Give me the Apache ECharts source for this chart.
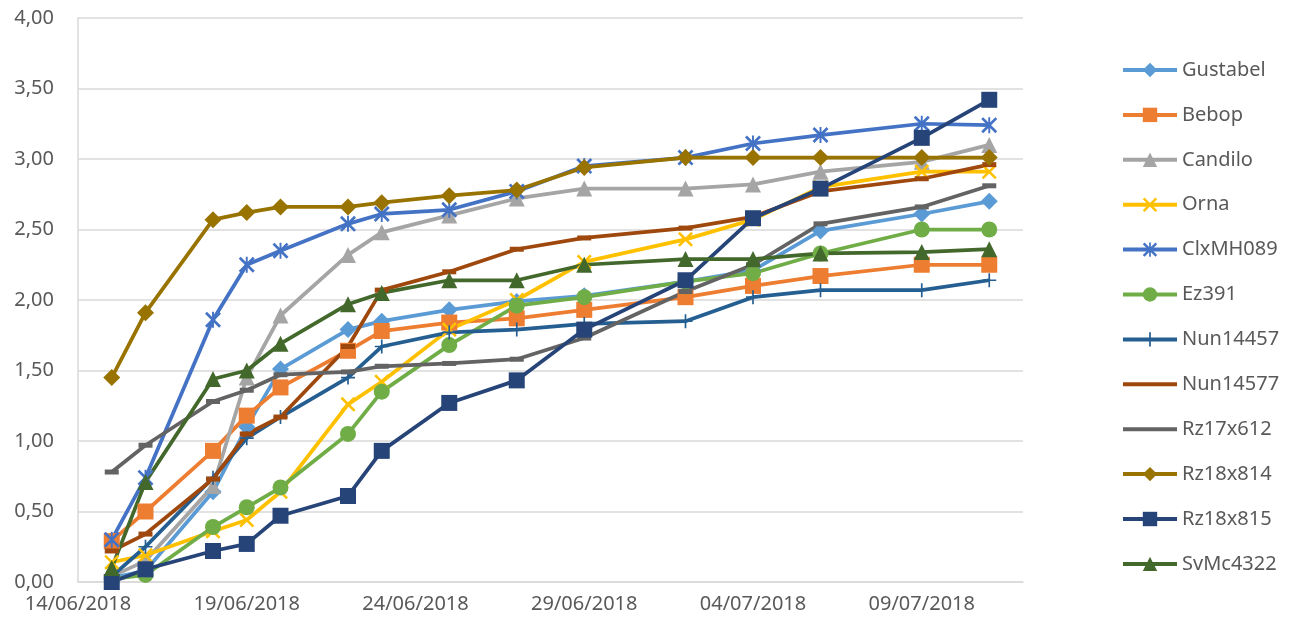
<!DOCTYPE html>
<html>
<head>
<meta charset="utf-8">
<script src="https://cdn.jsdelivr.net/npm/echarts@6/dist/echarts.min.js"></script>
<style>
  html, body { margin: 0; padding: 0; background: #fff; }
  #chart { width: 1293px; height: 627px; }
</style>
</head>
<body>
<div id="chart"></div>
<script>
// axis start and measurement dates
var startDate = '14/06/2018';
var endDate = '12/07/2018';
var dates = ['15/06/2018','16/06/2018','18/06/2018','19/06/2018','20/06/2018','22/06/2018','23/06/2018',
             '25/06/2018','27/06/2018','29/06/2018','02/07/2018','04/07/2018','06/07/2018','09/07/2018','11/07/2018'];

// values per variety
var gustabel = [0.03,0.08,0.64,1.10,1.51,1.79,1.85,1.93,1.99,2.03,2.13,2.21,2.49,2.61,2.70];
var bebop    = [0.29,0.50,0.93,1.18,1.38,1.64,1.78,1.84,1.87,1.93,2.02,2.10,2.17,2.25,2.25];
var candilo  = [0.04,0.15,0.68,1.45,1.89,2.32,2.48,2.60,2.72,2.79,2.79,2.82,2.91,2.98,3.10];
var orna     = [0.14,0.19,0.36,0.44,0.64,1.26,1.42,1.79,2.00,2.27,2.43,2.57,2.80,2.91,2.91];
var clxmh089 = [0.30,0.74,1.86,2.25,2.35,2.54,2.61,2.64,2.77,2.95,3.01,3.11,3.17,3.25,3.24];
var ez391    = [0.02,0.05,0.39,0.53,0.67,1.05,1.35,1.68,1.96,2.02,2.13,2.19,2.33,2.50,2.50];
var nun14457 = [0.04,0.25,0.74,1.02,1.17,1.45,1.67,1.77,1.79,1.83,1.85,2.02,2.07,2.07,2.14];
var nun14577 = [0.22,0.34,0.73,1.05,1.17,1.67,2.07,2.20,2.36,2.44,2.51,2.59,2.77,2.86,2.96];
var rz17x612 = [0.78,0.97,1.28,1.36,1.47,1.49,1.53,1.55,1.58,1.73,2.06,2.25,2.54,2.66,2.81];
var rz18x814 = [1.45,1.91,2.57,2.62,2.66,2.66,2.69,2.74,2.78,2.94,3.01,3.01,3.01,3.01,3.01];
var rz18x815 = [0.00,0.09,0.22,0.27,0.47,0.61,0.93,1.27,1.43,1.79,2.14,2.58,2.79,3.15,3.42];
var svmc4322 = [0.10,0.71,1.44,1.50,1.69,1.97,2.05,2.14,2.14,2.25,2.29,2.29,2.33,2.34,2.36];

var DAY = 86400000;
var FONT = 'Noto Sans';
var TXT = '#595959';

// marker shapes
var xMark = 'path://M0,1.2L1.2,0L10,8.8L8.8,10Z M8.8,0L10,1.2L1.2,10L0,8.8Z';
var starMark = 'path://M0,1.2L1.2,0L10,8.8L8.8,10Z M8.8,0L10,1.2L1.2,10L0,8.8Z M4.4,0H5.6V10H4.4Z';
var plusMark = 'path://M4.4,0H5.6V10H4.4Z M0,4.4H10V5.6H0Z';
var lineIcon = 'path://M0,0H54V4H0Z';

var parseDate = function(s){
    var p = s.split('/');
    return Date.UTC(+p[2], +p[1] - 1, +p[0]);
};
var pad = function(n){ return (n < 10 ? '0' : '') + n; };
var base = parseDate(startDate);
var dayIndex = function(s){ return Math.round((parseDate(s) - base) / DAY); };
var dayLabel = function(d){
    var t = new Date(base + d * DAY);
    return pad(t.getUTCDate()) + '/' + pad(t.getUTCMonth() + 1) + '/' + t.getUTCFullYear();
};

// dash = short horizontal bar marker (Excel "-")
var defs = [
    {name:'Gustabel', data:gustabel, color:'#5B9BD5', symbol:'diamond', size:17},
    {name:'Bebop',    data:bebop,    color:'#ED7D31', symbol:'rect', size:16},
    {name:'Candilo',  data:candilo,  color:'#A5A5A5', symbol:'triangle', size:16},
    {name:'Orna',     data:orna,     color:'#FFC000', symbol:xMark, size:15},
    {name:'ClxMH089', data:clxmh089, color:'#4472C4', symbol:starMark, size:16},
    {name:'Ez391',    data:ez391,    color:'#70AD47', symbol:'circle', size:16},
    {name:'Nun14457', data:nun14457, color:'#255E91', symbol:plusMark, size:14},
    {name:'Nun14577', data:nun14577, color:'#9E480E', symbol:'rect', size:[14,5], dash:true},
    {name:'Rz17x612', data:rz17x612, color:'#636363', symbol:'rect', size:[14,5], dash:true},
    {name:'Rz18x814', data:rz18x814, color:'#997300', symbol:'diamond', size:17},
    {name:'Rz18x815', data:rz18x815, color:'#264478', symbol:'rect', size:16},
    {name:'SvMc4322', data:svmc4322, color:'#43682B', symbol:'triangle', size:16}
];

var series = defs.map(function(d){
    return {
        name: d.name,
        type: 'line',
        data: dates.map(function(s, i){ return [dayIndex(s), d.data[i]]; }),
        symbol: d.symbol,
        symbolSize: d.size,
        lineStyle: {color: d.color, width: 3.75},
        itemStyle: {color: d.color, borderWidth: 0},
        emphasis: {disabled: true}
    };
});

var chart = echarts.init(document.getElementById('chart'));
chart.setOption({
    animation: false,
    backgroundColor: '#fff',
    color: defs.map(function(d){ return d.color; }),
    grid: {left: 78, top: 18, right: 270, bottom: 45},
    legend: {
        orient: 'vertical',
        left: 1116,
        top: 55,
        itemWidth: 54,
        itemHeight: 18,
        itemGap: 24.9,
        lineStyle: {width: 4},
        textStyle: {fontFamily: FONT, fontSize: 20, color: TXT},
        data: defs.map(function(d){
            return d.dash ? {name: d.name, icon: lineIcon} : d.name;
        })
    },
    xAxis: {
        type: 'value',
        min: 0,
        max: dayIndex(endDate),
        interval: 5,
        axisLine: {show: true, lineStyle: {color: '#D9D9D9', width: 1.5}},
        axisTick: {show: false},
        splitLine: {show: false},
        axisLabel: {
            fontFamily: FONT, fontSize: 20, color: TXT, margin: 12,
            formatter: function(v){ return v % 5 === 0 ? dayLabel(v) : ''; }
        }
    },
    yAxis: {
        type: 'value',
        min: 0,
        max: 4,
        interval: 0.5,
        axisLine: {show: true, lineStyle: {color: '#D9D9D9', width: 1.5}},
        axisTick: {show: false},
        splitLine: {show: true, lineStyle: {color: '#D9D9D9', width: 1.5}},
        axisLabel: {
            fontFamily: FONT, fontSize: 20, color: TXT, margin: 24,
            formatter: function(v){ return v.toFixed(2).replace('.', ','); }
        }
    },
    series: series
});
</script>
</body>
</html>
